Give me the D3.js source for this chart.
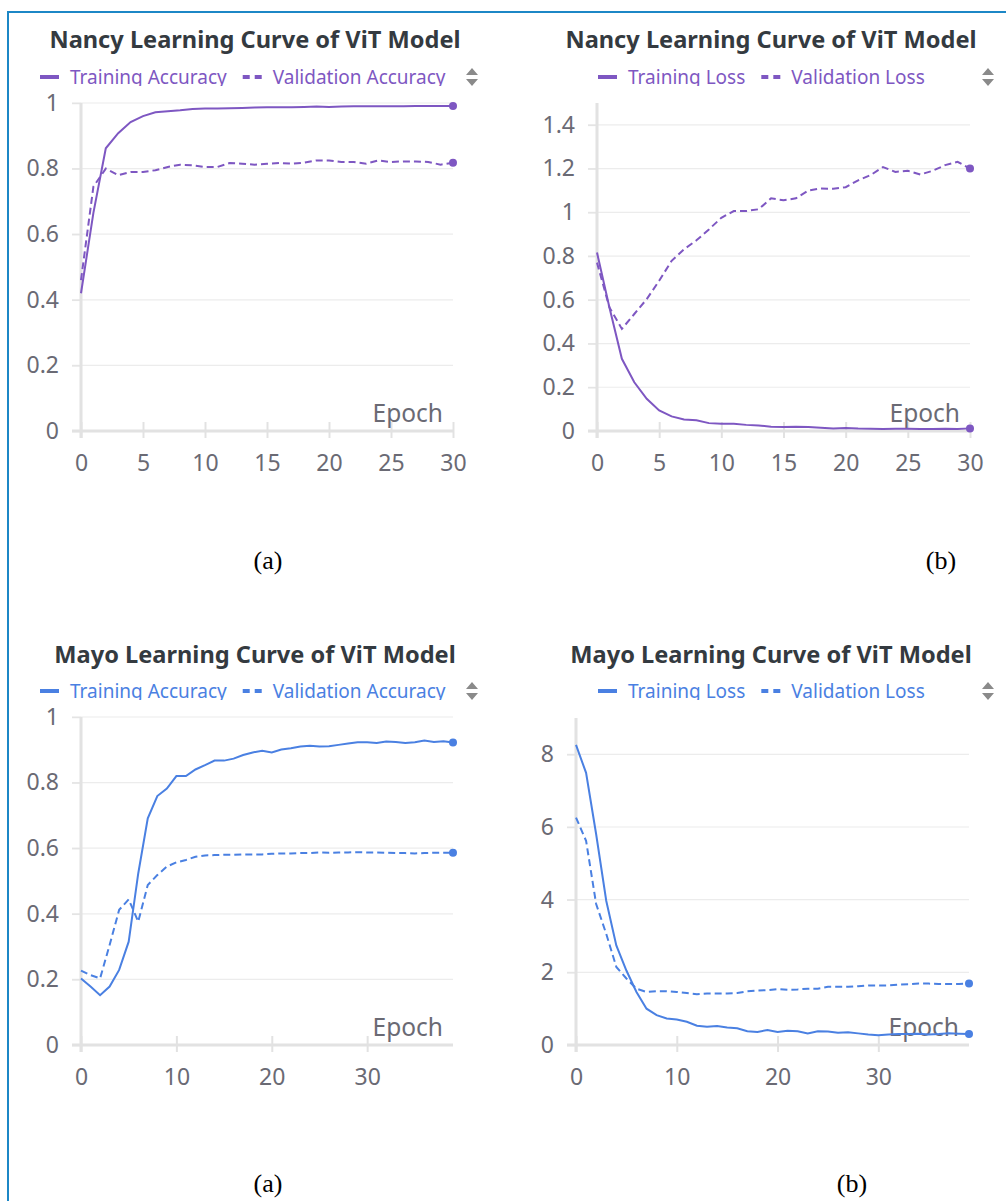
<!DOCTYPE html>
<html>
<head>
<meta charset="utf-8">
<script src="https://cdn.jsdelivr.net/npm/d3@7"></script>
<style>
  body { margin: 0; background: #fff; }
  svg { display: block; }
</style>
</head>
<body>
<div id="chart"></div>
<script>
// values, one per epoch
const nancyTrainAcc = [0.42, 0.665, 0.862, 0.908, 0.942, 0.96, 0.972, 0.975, 0.978, 0.982, 0.983,
    0.983, 0.984, 0.985, 0.986, 0.987, 0.987, 0.987, 0.988, 0.989, 0.988, 0.989, 0.990, 0.990,
    0.990, 0.990, 0.990, 0.991, 0.991, 0.991, 0.991];
const nancyValAcc = [0.46, 0.745, 0.80, 0.78, 0.79, 0.79, 0.795, 0.805, 0.812, 0.81, 0.805,
    0.805, 0.817, 0.815, 0.812, 0.815, 0.817, 0.815, 0.818, 0.825, 0.825, 0.82, 0.82, 0.815,
    0.825, 0.82, 0.822, 0.822, 0.82, 0.812, 0.818];
const nancyTrainLoss = [0.816, 0.565, 0.33, 0.223, 0.147, 0.094, 0.067, 0.053, 0.049, 0.036, 0.033,
    0.033, 0.028, 0.025, 0.02, 0.018, 0.019, 0.018, 0.015, 0.012, 0.014, 0.011, 0.010, 0.009,
    0.010, 0.010, 0.009, 0.009, 0.010, 0.009, 0.012];
const nancyValLoss = [0.77, 0.565, 0.467, 0.535, 0.603, 0.687, 0.778, 0.831, 0.872, 0.922, 0.975,
    1.006, 1.006, 1.014, 1.064, 1.055, 1.064, 1.10, 1.109, 1.108, 1.115, 1.146, 1.17, 1.207,
    1.185, 1.19, 1.173, 1.19, 1.216, 1.231, 1.20];

const mayoTrainAcc = [0.203, 0.178, 0.152, 0.178, 0.229, 0.315, 0.523, 0.691, 0.759, 0.782, 0.82,
    0.82, 0.84, 0.853, 0.867, 0.867, 0.873, 0.884, 0.892, 0.897, 0.892, 0.901, 0.905, 0.91,
    0.912, 0.91, 0.911, 0.915, 0.919, 0.923, 0.923, 0.921, 0.925, 0.924, 0.921, 0.923, 0.928,
    0.924, 0.926, 0.922];
const mayoValAcc = [0.227, 0.213, 0.203, 0.305, 0.412, 0.444, 0.376, 0.488, 0.518, 0.544, 0.557,
    0.564, 0.574, 0.578, 0.579, 0.580, 0.580, 0.581, 0.581, 0.581, 0.583, 0.584, 0.584, 0.585,
    0.585, 0.587, 0.586, 0.587, 0.587, 0.588, 0.587, 0.587, 0.586, 0.585, 0.585, 0.584, 0.585,
    0.586, 0.586, 0.586];
const mayoTrainLoss = [8.26, 7.49, 5.8, 3.97, 2.74, 2.05, 1.46, 1.0, 0.82, 0.73, 0.70,
    0.64, 0.53, 0.50, 0.52, 0.48, 0.46, 0.38, 0.36, 0.41, 0.36, 0.39, 0.38, 0.32,
    0.38, 0.37, 0.34, 0.35, 0.32, 0.29, 0.27, 0.29, 0.30, 0.30, 0.31, 0.29, 0.30,
    0.32, 0.31, 0.30];
const mayoValLoss = [6.26, 5.62, 3.88, 3.06, 2.15, 1.83, 1.55, 1.46, 1.48, 1.48, 1.46,
    1.43, 1.40, 1.42, 1.42, 1.42, 1.43, 1.48, 1.50, 1.51, 1.54, 1.52, 1.53, 1.55,
    1.55, 1.60, 1.60, 1.60, 1.62, 1.64, 1.64, 1.64, 1.66, 1.67, 1.69, 1.69, 1.68,
    1.68, 1.68, 1.69];

const accTicks = [0, 0.2, 0.4, 0.6, 0.8, 1];
const nancyLossTicks = [0, 0.2, 0.4, 0.6, 0.8, 1, 1.2, 1.4];
const mayoLossTicks = [0, 2, 4, 6, 8];
const nancyEpochTicks = [0, 5, 10, 15, 20, 25, 30];
const mayoEpochTicks = [0, 10, 20, 30];

const purple = "#7e57c2", blue = "#4a80e2";
const font = "'Noto Sans', 'Open Sans', sans-serif";

const panels = [
    {title: "Nancy Learning Curve of ViT Model", color: purple, names: ["Training Accuracy", "Validation Accuracy"],
     series: [nancyTrainAcc, nancyValAcc], xMax: 30, yMax: 1, yTicks: accTicks, xTicks: nancyEpochTicks,
     left: 81, right: 453, top: 103, bottom: 431, titleX: 255, titleY: 48, legendX: 40, legendY: 84, sortX: 472, caption: "(a)", capX: 268, capY: 569},
    {title: "Nancy Learning Curve of ViT Model", color: purple, names: ["Training Loss", "Validation Loss"],
     series: [nancyTrainLoss, nancyValLoss], xMax: 30, yMax: 1.5, yTicks: nancyLossTicks, xTicks: nancyEpochTicks,
     left: 597, right: 970, top: 103, bottom: 431, titleX: 771, titleY: 48, legendX: 598, legendY: 84, sortX: 988, caption: "(b)", capX: 941, capY: 569},
    {title: "Mayo Learning Curve of ViT Model", color: blue, names: ["Training Accuracy", "Validation Accuracy"],
     series: [mayoTrainAcc, mayoValAcc], xMax: 39, yMax: 1, yTicks: accTicks, xTicks: mayoEpochTicks,
     left: 81, right: 453, top: 717, bottom: 1045, titleX: 255, titleY: 663, legendX: 40, legendY: 698, sortX: 472, caption: "(a)", capX: 268, capY: 1192},
    {title: "Mayo Learning Curve of ViT Model", color: blue, names: ["Training Loss", "Validation Loss"],
     series: [mayoTrainLoss, mayoValLoss], xMax: 39, yMax: 9, yTicks: mayoLossTicks, xTicks: mayoEpochTicks,
     left: 576, right: 969, top: 718, bottom: 1045, titleX: 771, titleY: 663, legendX: 598, legendY: 698, sortX: 988, caption: "(b)", capX: 852, capY: 1192}
];

let svg = d3.select("#chart")
    .append("svg")
    .attr("width", 1006)
    .attr("height", 1201);

svg.append("rect").attr("width", 1006).attr("height", 1201).attr("fill", "#fff");

// frame round the figure (only top and left show)
svg.append("path")
    .attr("d", "M8,1201 V12 H1006")
    .attr("fill", "none")
    .attr("stroke", "#1c87c6")
    .attr("stroke-width", 2);

panels.forEach(function(p, k) {
    let g = svg.append("g");

    let x = d3.scaleLinear().domain([0, p.xMax]).range([p.left, p.right]);
    let y = d3.scaleLinear().domain([0, p.yMax]).range([p.bottom, p.top]);

    // gridlines
    g.append("g")
        .selectAll("line")
        .data(p.yTicks.filter(d => d > 0))
        .enter()
        .append("line")
        .attr("x1", p.left - 9)
        .attr("x2", p.right)
        .attr("y1", d => y(d))
        .attr("y2", d => y(d))
        .attr("stroke", "#ececec")
        .attr("stroke-width", 1.2);

    // y axis
    let yAxis = g.append("g")
        .attr("transform", `translate(${p.left}, 0)`)
        .call(d3.axisLeft(y).tickValues(p.yTicks).tickSize(9).tickPadding(13)
            .tickFormat(d => String(+d.toFixed(2))));
    yAxis.select(".domain").remove();
    yAxis.selectAll(".tick line").attr("stroke", "#e4e4e4").attr("stroke-width", 1.5);
    yAxis.selectAll("text")
        .attr("fill", "#6a6a74")
        .style("font-family", font)
        .style("font-size", "23px");
    g.append("line")
        .attr("x1", p.left).attr("x2", p.left)
        .attr("y1", p.top).attr("y2", p.bottom + 7)
        .attr("stroke", "#e2e2e2")
        .attr("stroke-width", 3);

    // x axis
    let xAxis = g.append("g")
        .attr("transform", `translate(0, ${p.bottom})`)
        .call(d3.axisBottom(x).tickValues(p.xTicks).tickSize(7).tickPadding(17));
    xAxis.select(".domain").remove();
    xAxis.selectAll(".tick line").attr("y1", -9).attr("stroke", "#e2e2e2").attr("stroke-width", 2);
    xAxis.selectAll("text")
        .attr("fill", "#6a6a74")
        .style("font-family", font)
        .style("font-size", "23px");
    g.append("line")
        .attr("x1", p.left - 9).attr("x2", p.right)
        .attr("y1", p.bottom).attr("y2", p.bottom)
        .attr("stroke", "#e2e2e2")
        .attr("stroke-width", 3);

    g.append("text")
        .attr("x", p.right - 10)
        .attr("y", p.bottom - 9)
        .style("text-anchor", "end")
        .style("font-family", font)
        .style("font-size", "24.5px")
        .attr("fill", "#6a6a74")
        .text("Epoch");

    // lines
    let line = d3.line()
        .x((d, i) => x(i))
        .y(d => y(d));

    p.series.forEach(function(s, j) {
        g.append("path")
            .datum(s)
            .attr("d", line)
            .attr("fill", "none")
            .attr("stroke", p.color)
            .attr("stroke-width", 2)
            .attr("stroke-dasharray", j == 1 ? "7,4" : null);
        g.append("circle")
            .attr("cx", x(s.length - 1))
            .attr("cy", y(s[s.length - 1]))
            .attr("r", 4)
            .attr("fill", p.color);
    });

    // title
    g.append("text")
        .attr("x", p.titleX)
        .attr("y", p.titleY)
        .style("text-anchor", "middle")
        .style("font-family", font)
        .style("font-weight", "bold")
        .style("font-size", "23.6px")
        .attr("fill", "#343a40")
        .text(p.title);

    // legend, cut off at the bottom like in the screenshot
    svg.append("clipPath")
        .attr("id", "legclip" + k)
        .append("rect")
        .attr("x", 0).attr("y", p.legendY - 22)
        .attr("width", 1006).attr("height", 24);

    let leg = g.append("g").attr("clip-path", `url(#legclip${k})`);
    let lx = p.legendX;
    p.names.forEach(function(name, j) {
        leg.append("line")
            .attr("x1", lx).attr("x2", lx + 19)
            .attr("y1", p.legendY - 7).attr("y2", p.legendY - 7)
            .attr("stroke", p.color)
            .attr("stroke-width", 4)
            .attr("stroke-dasharray", j == 1 ? "7,5" : null);
        let t = leg.append("text")
            .attr("x", lx + 30)
            .attr("y", p.legendY)
            .style("font-family", font)
            .style("font-size", "19px")
            .attr("fill", p.color)
            .text(name);
        lx = lx + 30 + t.node().getComputedTextLength() + 16;
    });

    // sort arrows
    let sy = p.legendY - 7;
    g.append("path")
        .attr("d", `M${p.sortX - 6},${sy - 2} L${p.sortX},${sy - 9} L${p.sortX + 6},${sy - 2} Z M${p.sortX - 6},${sy + 2} L${p.sortX},${sy + 9} L${p.sortX + 6},${sy + 2} Z`)
        .attr("fill", "#8a8a8a");

    // caption
    svg.append("text")
        .attr("x", p.capX)
        .attr("y", p.capY)
        .style("text-anchor", "middle")
        .style("font-family", "'Liberation Serif', 'Times New Roman', serif")
        .style("font-size", "26px")
        .attr("fill", "#000")
        .text(p.caption);
});
</script>
</body>
</html>
